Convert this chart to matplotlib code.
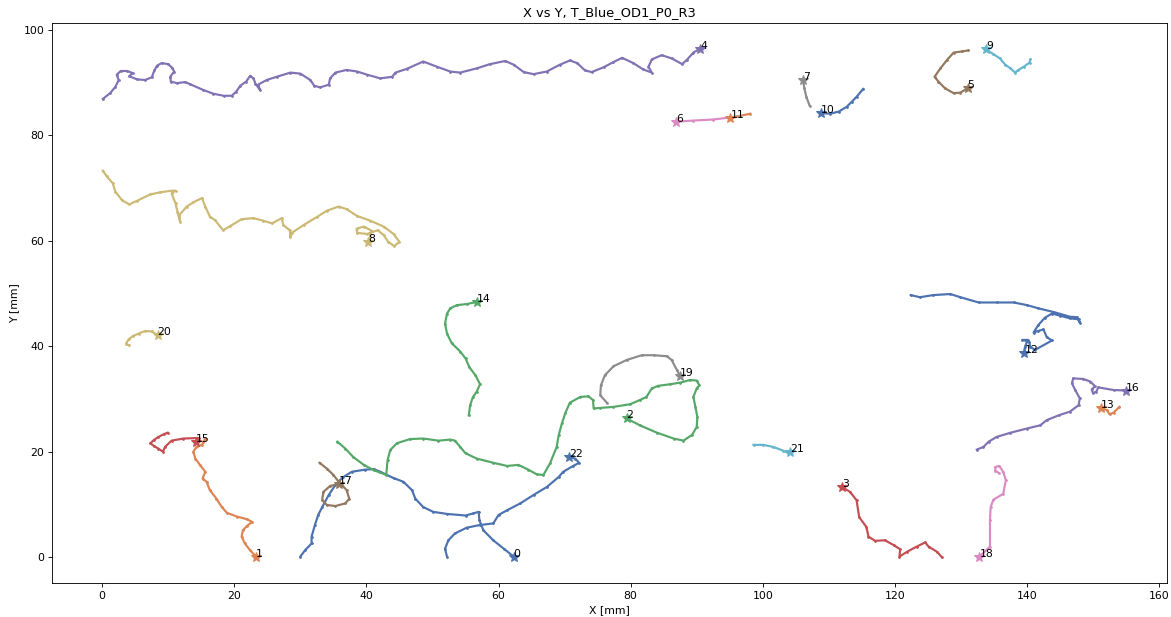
import matplotlib
matplotlib.use("Agg")
import matplotlib.pyplot as plt

# ---- data (mm); first point of each track is the starred / labelled point ----
t0_x = [62.3, 60.8, 59.2, 57.7, 57.1, 57.0, 56.2, 55.0, 52.2, 50.1, 48.6, 47.4, 46.9, 45.6, 44.1, 42.1, 41.1, 39.8, 37.8, 36.5, 35.3, 34.3, 33.3, 32.7, 32.2, 31.7, 31.7, 30.7, 30.0]
t0_y = [0.1, 1.6, 3.2, 5.1, 7.0, 8.6, 8.3, 7.9, 8.2, 8.6, 9.5, 11.1, 12.7, 14.3, 15.0, 16.2, 16.7, 16.6, 16.2, 15.2, 13.7, 11.8, 9.5, 8.0, 6.1, 3.9, 2.6, 1.3, 0.1]

t1_x = [23.3, 22.4, 21.6, 21.1, 21.3, 21.9, 22.7, 21.9, 20.4, 18.9, 18.1, 17.3, 16.3, 15.8, 15.2, 15.6, 14.8, 14.1, 13.8, 14.2, 15.1, 15.3, 15.6]
t1_y = [0.1, 1.3, 2.6, 3.9, 5.1, 5.9, 6.7, 7.2, 7.7, 8.4, 9.5, 11.1, 12.7, 14.3, 14.9, 16.2, 17.5, 18.7, 20.0, 20.8, 21.3, 21.8, 22.5]

t2_x = [79.4, 81.4, 84.0, 86.5, 88.0, 89.3, 90.0, 90.1, 89.8, 89.5, 90.0, 90.4, 90.0, 89.0, 87.5, 86.0, 84.2, 83.2, 82.4, 81.4, 79.9, 77.4, 75.4, 74.4, 74.3, 73.6, 72.4, 70.8, 70.1, 69.6, 69.1, 68.8, 67.8, 66.8, 65.8, 64.5, 63.0, 61.3, 59.2, 56.7, 55.0, 54.2, 53.4, 52.7, 50.9, 48.6, 46.6, 44.6, 43.6, 43.2, 43.0, 41.1, 39.6, 38.0, 36.8, 35.6]
t2_y = [26.3, 25.0, 23.6, 22.5, 22.1, 23.2, 24.7, 26.6, 28.5, 30.4, 32.0, 32.6, 33.5, 33.6, 33.1, 32.8, 32.5, 32.0, 30.4, 29.8, 29.0, 28.5, 28.3, 28.2, 29.8, 30.5, 30.4, 29.3, 27.3, 25.4, 23.1, 20.9, 17.8, 15.6, 15.7, 16.6, 17.5, 17.3, 17.9, 18.7, 19.7, 20.9, 22.1, 22.3, 22.1, 22.5, 22.4, 21.6, 20.3, 18.4, 15.6, 16.5, 17.5, 19.0, 20.6, 21.9]

t3_x = [112.0, 113.2, 114.2, 114.6, 115.7, 116.0, 117.0, 118.5, 119.8, 120.8, 120.7, 121.8, 123.3, 124.6, 125.1, 126.4, 127.1]
t3_y = [13.3, 12.4, 10.8, 7.6, 5.7, 3.9, 3.1, 3.2, 2.3, 1.5, 0.1, 1.0, 2.0, 2.8, 2.0, 1.0, 0.0]

t4_x = [90.5, 89.5, 88.5, 87.8, 86.2, 84.7, 83.2, 82.7, 83.2, 81.9, 80.4, 78.7, 77.4, 75.9, 74.1, 73.1, 71.9, 70.8, 69.3, 67.3, 65.3, 63.8, 62.3, 61.0, 58.7, 56.7, 54.2, 52.7, 50.7, 48.6, 46.1, 44.4, 43.9, 42.1, 40.1, 38.6, 37.0, 35.3, 34.5, 34.3, 33.0, 32.1, 31.5, 30.0, 28.5, 26.4, 24.9, 23.6, 23.9, 23.2, 22.9, 22.4, 21.8, 20.9, 20.3, 19.6, 18.4, 16.8, 15.3, 13.3, 12.6, 11.3, 10.4, 10.3, 10.9, 10.6, 10.0, 9.0, 8.3, 7.9, 7.5, 6.5, 5.3, 4.1, 4.6, 3.8, 2.8, 2.2, 2.5, 2.0, 1.2, 0.1]
t4_y = [96.4, 95.7, 94.3, 93.5, 94.6, 95.2, 94.4, 93.0, 91.9, 92.5, 93.7, 94.7, 93.9, 92.9, 92.0, 92.3, 93.7, 94.2, 93.4, 92.1, 91.6, 92.0, 93.4, 94.1, 93.5, 92.7, 91.9, 92.1, 93.0, 94.0, 92.6, 91.9, 91.1, 90.8, 91.5, 92.1, 92.4, 91.9, 90.8, 89.6, 89.1, 89.4, 90.5, 91.7, 91.9, 91.1, 90.5, 89.6, 88.6, 89.8, 90.8, 91.3, 90.2, 89.4, 88.3, 87.5, 87.5, 87.9, 88.6, 89.7, 90.1, 89.9, 90.2, 91.1, 92.1, 92.8, 93.5, 93.7, 93.2, 92.3, 91.0, 90.5, 90.6, 91.2, 91.8, 92.2, 92.2, 91.5, 90.5, 89.2, 88.0, 86.9]

t5_x = [131.0, 129.9, 128.9, 127.6, 126.6, 126.0, 126.9, 127.9, 128.9, 130.1, 131.1]
t5_y = [88.9, 88.1, 88.0, 88.9, 90.2, 91.1, 92.7, 94.3, 95.7, 95.9, 96.1]

t6_x = [86.9, 89.5, 92.5, 95.1, 96.6]
t6_y = [82.6, 82.8, 83.0, 83.4, 83.7]

t7_x = [106.1, 106.3, 106.6, 107.1]
t7_y = [90.4, 88.9, 87.3, 85.6]

t8_x = [40.3, 40.8, 39.6, 38.5, 38.6, 40.1, 41.7, 42.6, 43.3, 44.2, 45.0, 44.1, 42.6, 40.6, 38.6, 37.0, 35.8, 34.0, 32.5, 30.5, 28.7, 28.5, 28.4, 27.4, 27.2, 25.7, 24.4, 22.9, 21.1, 19.4, 18.3, 17.1, 16.3, 15.6, 15.1, 13.8, 12.8, 11.7, 11.8, 11.4, 11.1, 10.5, 11.1, 10.5, 8.8, 7.3, 5.3, 4.1, 3.0, 2.0, 1.6, 0.7, 0.1]
t8_y = [59.8, 61.9, 62.7, 62.3, 61.5, 61.3, 62.0, 61.1, 59.8, 59.0, 59.8, 61.3, 62.7, 63.8, 64.7, 66.0, 66.5, 65.7, 64.5, 63.0, 61.5, 60.7, 62.0, 63.0, 64.3, 63.3, 63.8, 64.3, 64.1, 62.8, 62.0, 63.9, 64.6, 66.5, 68.1, 67.3, 66.5, 64.9, 63.6, 65.5, 67.1, 69.0, 69.5, 69.5, 69.2, 68.8, 67.6, 66.9, 67.7, 69.3, 70.9, 72.2, 73.3]

t9_x = [133.8, 134.9, 135.9, 136.7, 137.5, 138.2, 138.7, 139.5, 140.4, 140.5]
t9_y = [96.3, 95.4, 94.6, 93.4, 92.7, 91.9, 92.4, 93.0, 93.8, 94.4]

t10_x = [108.8, 110.2, 111.5, 112.7, 113.5, 114.2, 115.2]
t10_y = [84.2, 84.1, 84.5, 85.4, 86.4, 87.3, 88.8]

t11_x = [95.1, 96.6, 98.1]
t11_y = [83.2, 83.7, 84.1]

t12_x = [139.6, 139.7, 140.1, 139.3, 140.3, 140.5, 141.2, 143.8, 143.0, 142.5, 141.7, 141.0, 141.7, 142.7, 143.8, 145.0, 146.5, 147.8, 148.0, 147.6, 146.5, 144.0, 141.7, 140.0, 138.0, 135.4, 132.7, 129.9, 128.4, 125.8, 123.8, 122.4]
t12_y = [38.8, 39.9, 41.2, 41.2, 40.9, 39.9, 39.3, 41.1, 41.7, 43.2, 42.9, 42.6, 44.0, 45.4, 46.2, 45.8, 45.3, 45.1, 44.5, 45.5, 45.6, 46.5, 47.2, 47.8, 48.3, 48.3, 48.3, 49.3, 49.9, 49.7, 49.3, 49.7]

t13_x = [151.2, 152.1, 152.5, 153.1, 154.0]
t13_y = [28.2, 27.9, 27.1, 27.4, 28.5]

t14_x = [56.7, 55.2, 53.7, 52.7, 52.2, 51.9, 52.2, 52.9, 54.2, 55.0, 55.6, 56.5, 57.2, 56.7, 56.1, 55.7, 55.5]
t14_y = [48.4, 48.0, 47.8, 47.2, 46.2, 44.3, 42.4, 40.6, 39.0, 37.7, 36.0, 34.5, 32.8, 31.4, 30.3, 28.8, 26.9]

t15_x = [14.2, 14.6, 12.3, 10.5, 9.5, 9.2, 8.5, 7.8, 7.3, 7.8, 8.5, 9.3, 9.9]
t15_y = [21.8, 22.6, 22.5, 22.1, 20.9, 20.0, 20.6, 21.1, 21.6, 22.2, 22.8, 23.3, 23.6]

t16_x = [155.0, 153.1, 150.8, 150.5, 150.0, 149.8, 150.3, 149.6, 148.5, 147.0, 146.8, 147.3, 148.0, 147.8, 146.5, 144.8, 143.0, 142.0, 140.0, 137.5, 135.4, 134.2, 133.4, 132.4]
t16_y = [31.6, 31.7, 32.2, 31.4, 31.1, 31.8, 32.4, 33.3, 33.8, 33.9, 33.0, 31.7, 30.1, 28.8, 27.6, 26.9, 26.0, 25.0, 24.4, 23.6, 22.8, 21.9, 20.9, 20.4]

t17_x = [35.8, 34.5, 33.5, 33.3, 34.0, 35.3, 36.8, 37.4, 37.0, 36.3, 35.8, 35.0, 34.0, 32.9]
t17_y = [13.9, 13.5, 12.4, 10.9, 9.9, 9.7, 10.2, 11.1, 12.7, 13.7, 14.3, 15.6, 16.8, 17.9]

t18_x = [132.8, 134.4, 134.4, 134.5, 134.9, 136.4, 136.8, 136.4, 135.8, 135.2, 135.2, 135.7]
t18_y = [0.1, 2.0, 7.0, 9.5, 10.9, 12.0, 14.6, 16.2, 17.3, 17.1, 16.4, 16.0]

t19_x = [87.5, 87.0, 86.2, 85.5, 83.5, 81.7, 79.4, 77.4, 76.1, 75.5, 75.4, 76.4]
t19_y = [34.3, 35.5, 37.4, 38.1, 38.3, 38.3, 37.4, 36.2, 34.5, 32.6, 30.7, 29.3]

t20_x = [8.4, 7.5, 6.5, 5.5, 4.6, 4.0, 3.6, 4.0]
t20_y = [42.1, 42.8, 42.9, 42.4, 41.9, 41.3, 40.5, 40.2]

t21_x = [104.1, 103.9, 103.1, 101.6, 100.1, 98.6]
t21_y = [20.0, 19.7, 20.2, 20.9, 21.3, 21.3]

t22_x = [70.7, 71.6, 72.2, 71.3, 69.8, 69.1, 67.3, 65.3, 63.3, 61.3, 60.0, 59.2, 57.2, 55.2, 53.4, 52.4, 51.9, 52.2]
t22_y = [19.0, 18.7, 17.9, 17.3, 16.2, 15.2, 13.3, 11.8, 10.2, 8.9, 8.0, 6.4, 6.1, 5.6, 4.5, 3.2, 1.6, 0.1]

track_ids = list(range(23))
track_colors = ["#4C72B0", "#DD8452", "#55A868", "#C44E52", "#8172B3", "#937860",
                "#DA8BC3", "#8C8C8C", "#CCB974", "#64B5CD", "#4C72B0", "#DD8452",
                "#4C72B0", "#DD8452", "#55A868", "#C44E52", "#8172B3", "#937860",
                "#DA8BC3", "#8C8C8C", "#CCB974", "#64B5CD", "#4C72B0"]

xs_all = [t0_x, t1_x, t2_x, t3_x, t4_x, t5_x, t6_x, t7_x, t8_x, t9_x, t10_x, t11_x,
          t12_x, t13_x, t14_x, t15_x, t16_x, t17_x, t18_x, t19_x, t20_x, t21_x, t22_x]
ys_all = [t0_y, t1_y, t2_y, t3_y, t4_y, t5_y, t6_y, t7_y, t8_y, t9_y, t10_y, t11_y,
          t12_y, t13_y, t14_y, t15_y, t16_y, t17_y, t18_y, t19_y, t20_y, t21_y, t22_y]

DPI = 78
fig = plt.figure(figsize=(1171 / DPI, 617 / DPI), dpi=DPI)
ax = fig.add_axes([0.0444, 0.0551, 0.9522, 0.9076])

for tid, xs, ys, c in zip(track_ids, xs_all, ys_all, track_colors):
    ax.plot(xs, ys, color=c, lw=2.0, marker='.', markersize=3)
    ax.plot(xs[0], ys[0], marker='*', color=c, markersize=9, linestyle='none')
    ax.text(xs[0], ys[0], str(tid), fontsize=10, color='black')

ax.set_xlim(-7.6, 161.2)
ax.set_ylim(-4.9, 101.3)
ax.set_xticks(range(0, 161, 20))
ax.set_yticks(range(0, 101, 20))
ax.set_xlabel("X [mm]")
ax.set_ylabel("Y [mm]")
ax.set_title("X vs Y, T_Blue_OD1_P0_R3")

fig.savefig("out.png", dpi=DPI)
